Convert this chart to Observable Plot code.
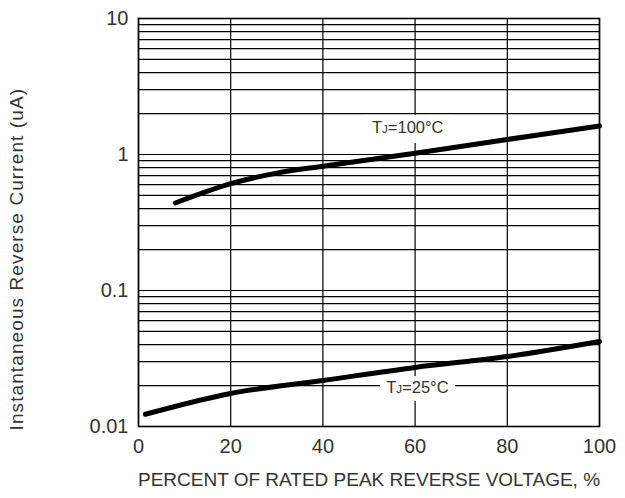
<!DOCTYPE html>
<html>
<head>
<meta charset="utf-8">
<script src="https://cdn.jsdelivr.net/npm/d3@7"></script>
<script src="https://cdn.jsdelivr.net/npm/@observablehq/plot@0.6"></script>
<style>
  html, body { margin: 0; padding: 0; background: #fff; }
  #chart { width: 625px; height: 498px; }
</style>
</head>
<body>
<div id="chart"></div>
<script>
// ---- data ----
const pct100 = [8, 20, 30, 40, 60, 80, 100];
const cur100 = [0.44, 0.61, 0.73, 0.82, 1.02, 1.29, 1.62];
const pct25 = [1.5, 20, 40, 60, 80, 100];
const cur25 = [0.0123, 0.0175, 0.0218, 0.0272, 0.0327, 0.0422];

const xTicks = [0, 20, 40, 60, 80, 100];
const yTicks = [0.01, 0.1, 1, 10];
const yTickLabels = ["0.01", "0.1", "1", "10"];
const yGrid = [0.01, 0.02, 0.03, 0.04, 0.05, 0.06, 0.07, 0.08, 0.09,
               0.1, 0.2, 0.3, 0.4, 0.5, 0.6, 0.7, 0.8, 0.9,
               1, 2, 3, 4, 5, 6, 7, 8, 9, 10];

const seriesNames = ["TJ=100°C", "TJ=25°C"];
const labelX = [58.4, 60.5];
const labelY = [1.58, 0.0194];
const boxX1 = [49.2, 52.5], boxX2 = [67.7, 68.8];
const boxY1 = [1.205, 0.0153], boxY2 = [1.94, 0.0233];

const xTitle = "PERCENT OF RATED PEAK REVERSE VOLTAGE, %";
const yTitle = "Instantaneous Reverse Current (uA)";

// ---- build tables ----
const curves = [
  ...pct100.map((p, i) => ({series: seriesNames[0], x: p, y: cur100[i]})),
  ...pct25.map((p, i) => ({series: seriesNames[1], x: p, y: cur25[i]}))
];
const labels = seriesNames.map((s, i) => ({
  text: s, x: labelX[i], y: labelY[i],
  x1: boxX1[i], x2: boxX2[i], y1: boxY1[i], y2: boxY2[i]
}));

const chart = Plot.plot({
  width: 625,
  height: 498,
  marginLeft: 138,
  marginRight: 26,
  marginTop: 18,
  marginBottom: 72,
  style: {fontFamily: "'Liberation Sans', Arial, sans-serif", color: "#333", background: "#fff"},
  x: {domain: [0, 100]},
  y: {type: "log", domain: [0.01, 10]},
  marks: [
    Plot.ruleY(yGrid, {stroke: "#000", strokeWidth: 1.2}),
    Plot.ruleX(xTicks, {stroke: "#000", strokeWidth: 1.2}),
    Plot.line(curves, {x: "x", y: "y", z: "series", stroke: "#000", strokeWidth: 5, curve: "catmull-rom"}),
    Plot.rect(labels, {x1: "x1", x2: "x2", y1: "y1", y2: "y2", fill: "#fff"}),
    Plot.text(labels, {x: "x", y: "y", text: "text", fontSize: 16.5, fill: "#333"}),
    Plot.frame({stroke: "#000", strokeWidth: 1.6}),
    Plot.axisX({ticks: xTicks, tickSize: 0, tickPadding: 12, fontSize: 20, label: null, tickFormat: d => String(d)}),
    Plot.axisY({ticks: yTicks, tickSize: 0, tickPadding: 10, fontSize: 20, label: null,
                tickFormat: d => yTickLabels[yTicks.indexOf(d)]}),
    Plot.text([xTitle], {frameAnchor: "bottom", text: d => d, dy: 59, fontSize: 19, fill: "#333"}),
    Plot.text([yTitle], {frameAnchor: "bottom-left", text: d => d, rotate: -90, textAnchor: "start",
                         dx: -116, dy: 4, fontSize: 19, fill: "#333"})
  ]
});

d3.select(chart).selectAll("text").each(function () {
  const t = this.textContent;
  if (t === yTitle) this.setAttribute("letter-spacing", "1.1");
  if (/^TJ=/.test(t)) {
    const s = d3.select(this);
    s.text("");
    s.append("tspan").text("T");
    s.append("tspan").attr("font-size", "70%").text("J");
    s.append("tspan").text(t.slice(2));
  }
});

document.getElementById("chart").appendChild(chart);
</script>
</body>
</html>
